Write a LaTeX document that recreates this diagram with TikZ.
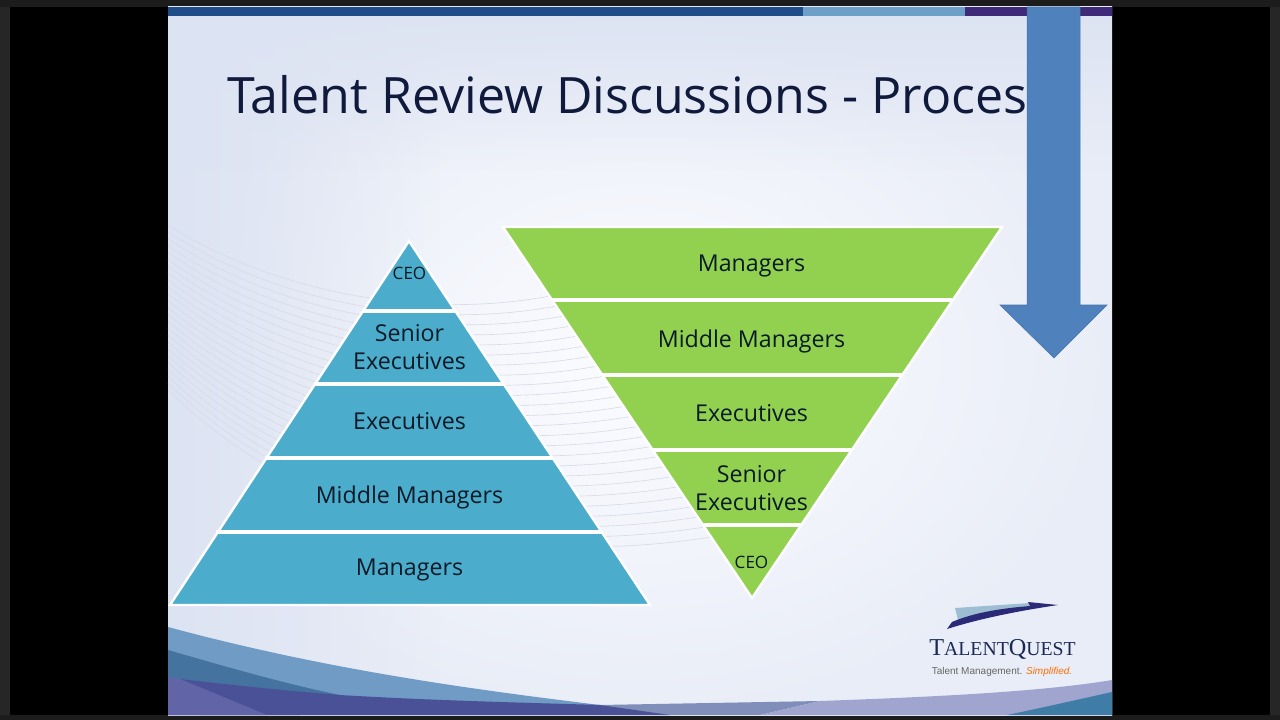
\documentclass[tikz,border=0pt]{standalone}
\usetikzlibrary{fadings}
\usepackage{fontspec}
\setmainfont{Open Sans}
\newfontfamily\logofont{Liberation Serif}
\newfontfamily\tagfont{Liberation Sans}
\definecolor{frame}{HTML}{262626}
\definecolor{frametop}{HTML}{1C1C1C}
\definecolor{topbar}{HTML}{1E4D8A}
\definecolor{topbarlight}{HTML}{6CA0C8}
\definecolor{topbarpurple}{HTML}{3E2A78}
\definecolor{teal}{HTML}{4BACCB}
\definecolor{leaf}{HTML}{92D050}
\definecolor{arrowblue}{HTML}{4F81BD}
\definecolor{ink}{HTML}{0F1A3C}
\definecolor{labelink}{HTML}{0A1A26}
\definecolor{waveA}{HTML}{6F9BC4}
\definecolor{waveB}{HTML}{44739F}
\definecolor{waveC}{HTML}{4A5196}
\definecolor{waveD}{HTML}{6264A8}
\definecolor{waveE}{HTML}{9FA5CE}
\definecolor{waveF}{HTML}{3F7DA6}
\definecolor{waveG}{HTML}{7F8FBA}
\definecolor{logoblue}{HTML}{1B2A55}
\definecolor{swoosh}{HTML}{2B2A78}
\definecolor{logolight}{HTML}{9DBDD3}
\definecolor{sweep}{HTML}{D8DCE7}
\definecolor{bgedge}{HTML}{E9EDF7}
\definecolor{bgcentre}{HTML}{FBFCFF}
\definecolor{bgshade}{HTML}{DCE3F2}
\tikzset{
  x=0.75pt,y=-0.75pt,
  layerlabel/.style={font=\fontsize{17.4}{21.5}\selectfont,text=labelink,align=center,inner sep=0pt},
  ceolabel/.style={font=\fontsize{12.8}{15}\selectfont,text=labelink,inner sep=0pt},
  layerline/.style={white,line width=2.4pt},
  outline/.style={white,line width=1.8pt,line join=miter}
}
\begin{document}
\begin{tikzpicture}
\useasboundingbox (0,0) rectangle (1280,720);
\fill[black] (0,0) rectangle (1280,720);
\fill[frame] (0,0) rectangle (10,720);
\fill[frame] (1270,0) rectangle (1280,720);
\fill[frametop] (0,0) rectangle (1280,7);
\fill[frametop] (0,715) rectangle (1280,720);
% slide
\begin{scope}
\clip (168,7) rectangle (1112,715);
\shade[inner color=bgcentre,outer color=bgedge] (168,7) rectangle (1112,715);
\fill[bgshade,path fading=east] (168,7) rectangle (440,715);
\fill[bgshade,path fading=south] (168,7) rectangle (1112,170);
\end{scope}
\fill[topbar] (168,7) rectangle (803,16);
\fill[topbarlight] (803,7) rectangle (965,16);
\fill[topbarpurple] (965,7) rectangle (1112,16);
% faint sweep lines
\foreach \i in {0,...,24}{
  \pgfmathsetmacro{\t}{\i/24}
  \draw[sweep,line width=0.5pt]
    ({168},{225+165*\t})
    .. controls ({270+30*\t},{290+230*\t}) and ({420+80*\t},{322+248*\t})
    .. ({555+157*\t},{295+242*\t});
}
% waves
\fill[waveG] (600,705) -- (820,701) -- (760,715) -- (640,715) -- cycle;
\fill[waveA] (168,627) .. controls (320,668) and (460,688) .. (600,705) -- (640,715) -- (168,715) -- cycle;
\fill[waveB] (168,650) .. controls (230,668) and (290,685) .. (340,695) -- (300,715) -- (168,715) -- cycle;
\fill[waveC] (180,679) .. controls (240,686) and (300,692) .. (340,695) .. controls (440,701) and (540,703) .. (600,705) -- (670,715) -- (200,715) -- cycle;
\fill[waveD] (168,677) -- (180,679) -- (267,715) -- (168,715) -- cycle;
\fill[waveE] (760,715) -- (820,701) .. controls (930,697) and (1040,692) .. (1112,680) -- (1112,715) -- cycle;
\fill[waveF] (1007,715) .. controls (1050,706) and (1085,698) .. (1112,692) -- (1112,715) -- cycle;
% title
\node[anchor=base west,inner sep=0pt,text=ink,font=\fontsize{37.6}{42}\selectfont] (title) at (227,114) {Talent Review Discussions - Proces};
% left pyramid
\fill[teal] (409,241) -- (650,605) -- (170,605) -- cycle;
\draw[outline] (409,241) -- (650,605) -- (170,605) -- cycle;
\foreach \y/\h in {311/46,384/95,458/144,532/193}{
  \draw[layerline] (409-\h,\y) -- (409+\h,\y);
}
\node[ceolabel] (lceo) at (409.5,273.5) {CEO};
\node[layerlabel] (lsenior) at (409.5,347) {Senior\\Executives};
\node[layerlabel] (lexec) at (409.5,421) {Executives};
\node[layerlabel] (lmiddle) at (409.5,497) {Middle Managers};
\node[layerlabel] (lmanagers) at (409.5,570) {Managers};
% right pyramid
\fill[leaf] (503,227) -- (1002,227) -- (752,598) -- cycle;
\draw[outline] (503,227) -- (1002,227) -- (752,598) -- cycle;
\foreach \y/\h in {300/200,375/150,450/99,525/49}{
  \draw[layerline] (752-\h,\y) -- (752+\h,\y);
}
\node[layerlabel] (rmanagers) at (751.5,266) {Managers};
\node[layerlabel] (rmiddle) at (751.5,341) {Middle Managers};
\node[layerlabel] (rexec) at (751.5,413) {Executives};
\node[layerlabel] (rsenior) at (751.5,488) {Senior\\Executives};
\node[ceolabel] (rceo) at (751.5,562.5) {CEO};
% arrow
\fill[arrowblue,draw=arrowblue!90!black,line width=0.4pt] (1027,7) -- (1080,7) -- (1080,305) -- (1107,305) -- (1054,358) -- (1000,305) -- (1027,305) -- cycle;
% logo
\fill[logolight] (955,608) -- (1030,603) -- (1040,606) .. controls (1005,612) and (980,616) .. (958,620) -- cycle;
\fill[swoosh] (947,629) -- (952,622) .. controls (975,612) and (1005,608) .. (1030,606) -- (1028,602) -- (1058,605) .. controls (1025,610) and (985,617) .. (947,629) -- cycle;
\node[anchor=base,inner sep=0pt,text=logoblue] (brand) at (1002.5,655) {\logofont\fontsize{18.2}{20}\selectfont T\fontsize{14.8}{20}\selectfont ALENT\fontsize{18.2}{20}\selectfont Q\fontsize{14.8}{20}\selectfont UEST};
\node[anchor=base,inner sep=0pt,text=black!60] (tag) at (1002,674) {\tagfont\fontsize{7.5}{9}\selectfont Talent Management. \textcolor{orange!85!red}{\itshape Simplified.}};
\end{tikzpicture}
\end{document}
